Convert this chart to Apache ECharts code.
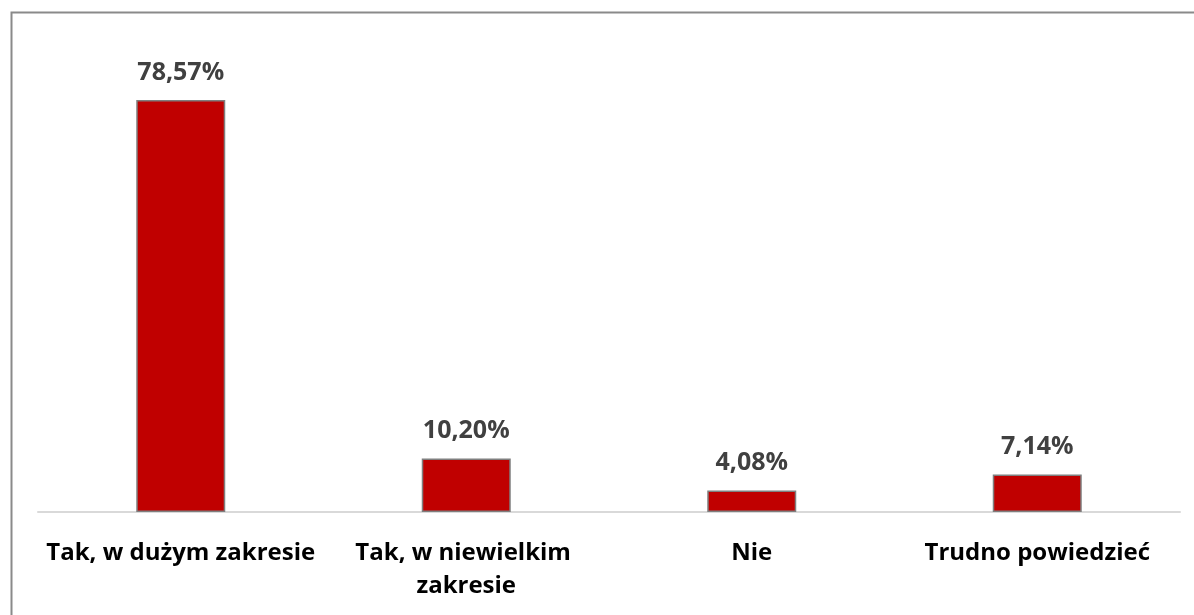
<!DOCTYPE html>
<html>
<head>
<meta charset="utf-8">
<script src="https://cdn.jsdelivr.net/npm/echarts@6/dist/echarts.min.js"></script>
<style>
  html, body { margin: 0; padding: 0; background: #fff; }
  #chart { width: 1194px; height: 615px; }
</style>
</head>
<body>
<div id="chart"></div>
<script>
// Survey answers and their shares (percent)
const categories = ['Tak, w dużym zakresie', 'Tak, w niewielkim zakresie', 'Nie', 'Trudno powiedzieć'];
const shares = [78.57, 10.20, 4.08, 7.14];

const chart = echarts.init(document.getElementById('chart'), null, { renderer: 'canvas' });

const fmtPct = v => v.toFixed(2).replace('.', ',') + '%';

chart.setOption({
  animation: false,
  backgroundColor: '#ffffff',
  graphic: [{
    type: 'rect',
    left: 9, top: 10,
    shape: { width: 1200, height: 620 },
    style: { fill: 'none', stroke: '#8a8a8a', lineWidth: 2 },
    silent: true
  }],
  grid: { left: 38, right: 14, top: 40, bottom: 103, containLabel: false },
  xAxis: {
    type: 'category',
    data: categories,
    axisLine: { show: true, lineStyle: { color: '#d9d9d9', width: 2 } },
    axisTick: { show: false },
    axisLabel: {
      interval: 0,
      margin: 25,
      color: '#000000',
      fontFamily: 'Open Sans',
      fontWeight: 'bold',
      fontSize: 24,
      lineHeight: 33,
      width: 282,
      overflow: 'break'
    }
  },
  yAxis: {
    type: 'value',
    min: 0, max: 90,
    show: false,
    splitLine: { show: false }
  },
  series: [{
    type: 'bar',
    data: shares,
    barWidth: 89,
    itemStyle: { color: '#c00000', borderColor: '#7f7f7f', borderWidth: 1.5 },
    label: {
      show: true,
      position: 'top',
      distance: 15,
      color: '#404040',
      fontFamily: 'Open Sans',
      fontWeight: 'bold',
      fontSize: 25,
      formatter: p => fmtPct(p.value)
    }
  }]
});
</script>
</body>
</html>
